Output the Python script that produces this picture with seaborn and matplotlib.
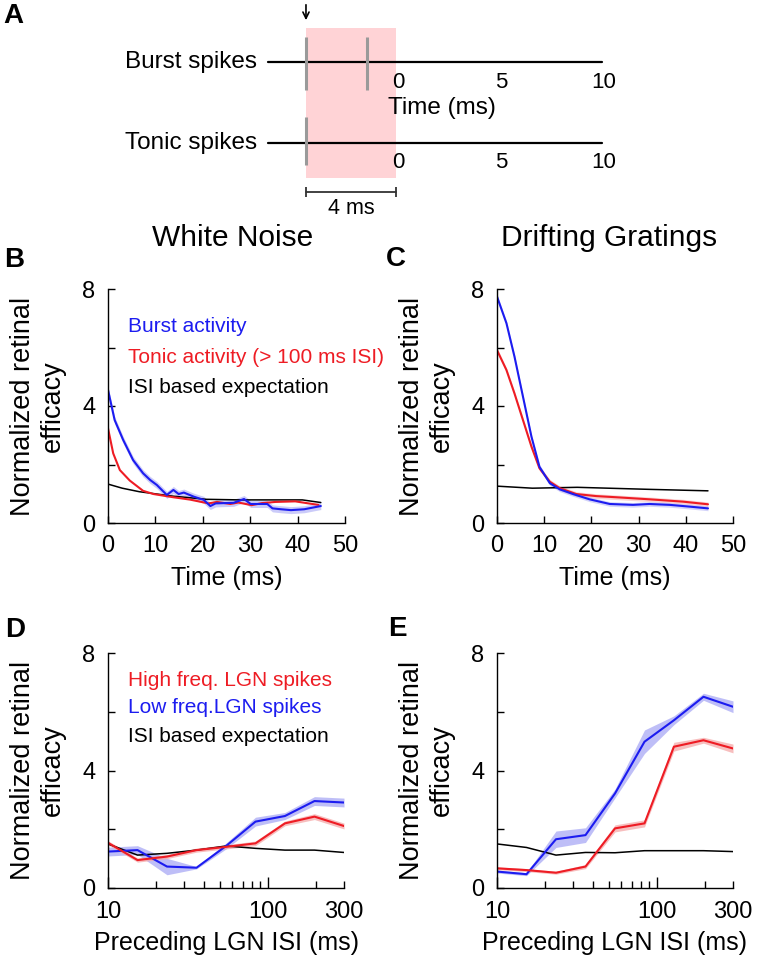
import numpy as np
import pandas as pd
import matplotlib
matplotlib.use("Agg")
import matplotlib.pyplot as plt
from matplotlib.patches import Rectangle
from matplotlib.ticker import FixedLocator, NullFormatter
import seaborn as sns

sns.set_style("ticks")
plt.rcParams['font.family'] = ['Liberation Sans', 'DejaVu Sans']
plt.rcParams['text.color'] = 'black'
plt.rcParams['axes.labelcolor'] = 'black'
plt.rcParams['xtick.color'] = 'black'
plt.rcParams['ytick.color'] = 'black'
plt.rcParams['axes.edgecolor'] = 'black'

# ---------------- data ----------------
# Panel A (schematic, ms)
burst_spike_times = [-4.37, -1.41]
tonic_spike_times = [-4.37]
window_ms = [-4.37, 0.0]
timeline_ms = [-6.2, 10.0]
timeline_ticks = [0, 5, 10]

# Panel B: White noise
wn_t_blue = [0, 1.4, 3.2, 5.3, 7.4, 8.9, 10.3, 12.4, 13.8, 14.9, 16.0, 18.1, 20.2, 21.6,
             22.7, 24.5, 26.5, 28.7, 30.1, 33.6, 34.7, 36.5, 38.6, 41.4, 44.9]
wn_blue = [4.55, 3.52, 2.84, 2.15, 1.70, 1.47, 1.30, 0.96, 1.13, 0.99, 1.04, 0.90, 0.79, 0.58,
           0.67, 0.68, 0.69, 0.82, 0.65, 0.65, 0.50, 0.47, 0.44, 0.47, 0.58]
wn_t_red = [0, 1.1, 2.5, 4.6, 5.0, 7.4, 9.6, 13.8, 17.3, 21.2, 23.0, 25.8, 27.5, 30.3,
            32.5, 35.3, 39.5, 42.3, 44.4]
wn_red = [3.24, 2.38, 1.81, 1.45, 1.40, 1.10, 0.99, 0.88, 0.80, 0.67, 0.72, 0.65, 0.70, 0.61,
          0.68, 0.72, 0.74, 0.67, 0.62]
wn_t_black = [0, 3.0, 6.6, 13.6, 20.7, 27.8, 34.9, 41.0, 44.9]
wn_black = [1.33, 1.19, 1.07, 0.92, 0.81, 0.79, 0.79, 0.79, 0.70]
wn_blue_err = 0.12

# Panel C: Drifting gratings
dg_t_blue = [0, 2.0, 3.7, 5.5, 7.3, 9.0, 11.2, 13.3, 16.1, 19.6, 23.9, 28.8, 32.3, 36.6, 40.8, 44.7]
dg_blue = [7.74, 6.83, 5.69, 4.32, 2.95, 1.92, 1.36, 1.15, 0.99, 0.81, 0.65, 0.62, 0.65, 0.62, 0.56, 0.50]
dg_t_red = [0, 2.0, 3.7, 5.5, 7.3, 9.0, 11.2, 13.3, 16.8, 21.0, 25.3, 32.3, 39.4, 44.7]
dg_red = [5.91, 5.23, 4.43, 3.52, 2.61, 1.87, 1.41, 1.19, 0.99, 0.92, 0.88, 0.81, 0.73, 0.64]
dg_t_black = [0, 7.5, 17.0, 32.3, 44.7]
dg_black = [1.26, 1.19, 1.22, 1.15, 1.10]
dg_err = 0.08

# Panels D/E: preceding ISI bins (ms)
isi_bins = [10, 15.3, 23.4, 35.8, 54.8, 83.8, 128, 196, 300]

d_red = [1.54, 0.95, 1.07, 1.29, 1.40, 1.52, 2.20, 2.43, 2.11]
d_red_err = [0.07, 0.07, 0.07, 0.07, 0.07, 0.08, 0.08, 0.10, 0.10]
d_blue = [1.24, 1.29, 0.73, 0.69, 1.43, 2.26, 2.45, 2.96, 2.91]
d_blue_err = [0.15, 0.15, 0.28, 0.04, 0.10, 0.15, 0.12, 0.15, 0.15]
d_black = [1.50, 1.12, 1.18, 1.29, 1.43, 1.35, 1.29, 1.29, 1.21]

e_red = [0.67, 0.61, 0.52, 0.73, 2.03, 2.20, 4.81, 5.03, 4.75]
e_red_err = [0.05, 0.05, 0.05, 0.07, 0.12, 0.12, 0.15, 0.10, 0.15]
e_blue = [0.56, 0.47, 1.66, 1.80, 3.22, 4.98, 5.71, 6.51, 6.17]
e_blue_err = [0.05, 0.05, 0.28, 0.25, 0.15, 0.40, 0.15, 0.12, 0.20]
e_black = [1.50, 1.38, 1.12, 1.21, 1.20, 1.27, 1.27, 1.27, 1.24]

BLUE = '#1c1cf0'
RED = '#ee1c24'
BLUE_BAND = '#a9a9f5'
RED_BAND = '#f5a9a9'

W, H = 766, 960
fig = plt.figure(figsize=(W / 100, H / 100), dpi=100)


def px_axes(l, t, r, b):
    return fig.add_axes([l / W, 1 - b / H, (r - l) / W, (b - t) / H])


# ---------------- Panel A ----------------
axa = px_axes(0, 0, W, 220)
axa.axis('off')
pxms = 20.6
x0px = 396
axa.set_xlim(-x0px / pxms, (W - x0px) / pxms)
axa.set_ylim(220, 0)
axa.add_patch(Rectangle((window_ms[0], 28), window_ms[1] - window_ms[0], 150,
                        facecolor='#ffd3d6', edgecolor='none', zorder=0))
for yline, spikes, (s0, s1), ylab, name in [(62, burst_spike_times, (37, 90), 82, 'Burst spikes'),
                                           (143, tonic_spike_times, (117, 165), 163, 'Tonic spikes')]:
    sns.lineplot(x=timeline_ms, y=[yline, yline], ax=axa, color='black', lw=1.6, zorder=2)
    axa.vlines(spikes, s0, s1, color='#9a9a9a', lw=2.2, zorder=3)
    axa.text((257 - x0px) / pxms, yline, name, ha='right', va='center', fontsize=17.5)
    for tk in timeline_ticks:
        axa.text(tk + 0.1, ylab, str(tk), ha='center', va='center', fontsize=16)
axa.text((442 - x0px) / pxms, 108, 'Time (ms)', ha='center', va='center', fontsize=17.5)
axa.annotate('', xy=(window_ms[0], 23), xytext=(window_ms[0], 2),
             arrowprops=dict(arrowstyle='->,head_length=0.45,head_width=0.22', lw=1.2, color='black'))
axa.plot(window_ms, [192, 192], color='#333333', lw=1.3)
axa.vlines(window_ms, 187, 197, color='#333333', lw=1.3)
axa.text(np.mean(window_ms), 208, '4 ms', ha='center', va='center', fontsize=15.5)
fig.text(13 / W, 1 - 16 / H, 'A', fontsize=20, fontweight='bold', ha='center', va='center')


# ---------------- helpers ----------------
def style_axes(ax, width_px):
    sns.despine(ax=ax)
    for s in ['left', 'bottom']:
        ax.spines[s].set_linewidth(1.0)
        ax.spines[s].set_color('black')
    ax.set_ylim(0, 8)
    ax.yaxis.set_major_locator(FixedLocator([0, 4, 8]))
    ax.yaxis.set_minor_locator(FixedLocator([2, 6]))
    ax.tick_params(axis='both', which='both', direction='in', color='black',
                   labelsize=17, pad=9, width=1.0, bottom=True, left=True,
                   top=False, right=False, labelcolor='black')
    ax.tick_params(axis='both', which='major', length=5)
    ax.tick_params(axis='both', which='minor', length=5)
    ax.set_ylabel('Normalized retinal\nefficacy', fontsize=19.5, linespacing=1.2, color='black')
    ax.yaxis.set_label_coords(-70 / width_px, 0.5)
    ax.yaxis.label.set_va('center')
    ax.set_facecolor('none')


def time_axes(ax, xlabel_px):
    ax.set_xlim(0, 50)
    ax.xaxis.set_major_locator(FixedLocator([0, 10, 20, 30, 40, 50]))
    ax.set_xlabel('Time (ms)', fontsize=18, color='black')
    ax.xaxis.set_label_coords(0.5, xlabel_px)
    ax.xaxis.label.set_va('center')


def isi_axes(ax, xlabel_px):
    ax.set_xscale('log')
    ax.set_xlim(10, 300)
    ax.xaxis.set_major_locator(FixedLocator([10, 100, 300]))
    ax.set_xticklabels(['10', '100', '300'])
    ax.xaxis.set_minor_locator(FixedLocator([20, 30, 40, 50, 60, 70, 80, 90, 200]))
    ax.xaxis.set_minor_formatter(NullFormatter())
    ax.tick_params(axis='x', which='major', length=8)
    ax.xaxis.get_major_ticks()[2].tick1line.set_markersize(5)
    ax.set_xlabel('Preceding LGN ISI (ms)', fontsize=18, color='black')
    ax.xaxis.set_label_coords(0.5, xlabel_px)
    ax.xaxis.label.set_va('center')


# ---------------- Panel B ----------------
axb = px_axes(108, 289, 345, 523)
b_lo = np.array(wn_blue) - wn_blue_err
b_hi = np.array(wn_blue) + wn_blue_err
axb.fill_between(wn_t_blue, b_lo, b_hi, color=BLUE_BAND, alpha=0.6, lw=0)
sns.lineplot(x=wn_t_black, y=wn_black, ax=axb, color='black', lw=1.1)
sns.lineplot(x=wn_t_red, y=wn_red, ax=axb, color=RED, lw=1.5)
sns.lineplot(x=wn_t_blue, y=wn_blue, ax=axb, color=BLUE, lw=1.5)
style_axes(axb, 237)
time_axes(axb, -55 / 234)
for txt, col, yf in [('Burst activity', BLUE, 0.838),
                     ('Tonic activity (> 100 ms ISI)', RED, 0.709),
                     ('ISI based expectation', 'black', 0.581)]:
    axb.text(0.084, yf, txt, color=col, fontsize=15, transform=axb.transAxes,
             ha='left', va='center', clip_on=False)

# ---------------- Panel C ----------------
axc = px_axes(497, 289, 733, 523)
for tt, vv, col, band in [(dg_t_red, dg_red, RED, RED_BAND), (dg_t_blue, dg_blue, BLUE, BLUE_BAND)]:
    axc.fill_between(tt, np.array(vv) - dg_err, np.array(vv) + dg_err, color=band, alpha=0.5, lw=0)
sns.lineplot(x=dg_t_black, y=dg_black, ax=axc, color='black', lw=1.1)
sns.lineplot(x=dg_t_red, y=dg_red, ax=axc, color=RED, lw=1.5)
sns.lineplot(x=dg_t_blue, y=dg_blue, ax=axc, color=BLUE, lw=1.5)
style_axes(axc, 236)
time_axes(axc, -55 / 234)

# ---------------- Panel D ----------------
axd = px_axes(108, 653, 344, 888)
axd.fill_between(isi_bins, np.array(d_blue) - d_blue_err, np.array(d_blue) + d_blue_err,
                 color=BLUE_BAND, alpha=0.75, lw=0)
axd.fill_between(isi_bins, np.array(d_red) - d_red_err, np.array(d_red) + d_red_err,
                 color=RED_BAND, alpha=0.75, lw=0)
sns.lineplot(x=isi_bins, y=d_black, ax=axd, color='black', lw=1.1)
sns.lineplot(x=isi_bins, y=d_blue, ax=axd, color=BLUE, lw=1.5)
sns.lineplot(x=isi_bins, y=d_red, ax=axd, color=RED, lw=1.5)
style_axes(axd, 236)
isi_axes(axd, -55 / 235)
for txt, col, yf in [('High freq. LGN spikes', RED, 0.881),
                     ('Low freq.LGN spikes', BLUE, 0.766),
                     ('ISI based expectation', 'black', 0.643)]:
    axd.text(0.085, yf, txt, color=col, fontsize=15, transform=axd.transAxes,
             ha='left', va='center', clip_on=False)

# ---------------- Panel E ----------------
axe = px_axes(497, 653, 733, 888)
axe.fill_between(isi_bins, np.array(e_blue) - e_blue_err, np.array(e_blue) + e_blue_err,
                 color=BLUE_BAND, alpha=0.75, lw=0)
axe.fill_between(isi_bins, np.array(e_red) - e_red_err, np.array(e_red) + e_red_err,
                 color=RED_BAND, alpha=0.75, lw=0)
sns.lineplot(x=isi_bins, y=e_black, ax=axe, color='black', lw=1.1)
sns.lineplot(x=isi_bins, y=e_blue, ax=axe, color=BLUE, lw=1.5)
sns.lineplot(x=isi_bins, y=e_red, ax=axe, color=RED, lw=1.5)
style_axes(axe, 236)
isi_axes(axe, -55 / 235)

# ---------------- titles & panel letters ----------------
fig.text(233 / W, 1 - 238 / H, 'White Noise', fontsize=21.5, ha='center', va='center')
fig.text(609 / W, 1 - 238 / H, 'Drifting Gratings', fontsize=21.5, ha='center', va='center')
for letter, (xp, yp) in {'B': (14, 260), 'C': (396, 259), 'D': (15, 630), 'E': (397, 629)}.items():
    fig.text(xp / W, 1 - yp / H, letter, fontsize=20, fontweight='bold', ha='center', va='center')

fig.savefig('out.png', dpi=100)
